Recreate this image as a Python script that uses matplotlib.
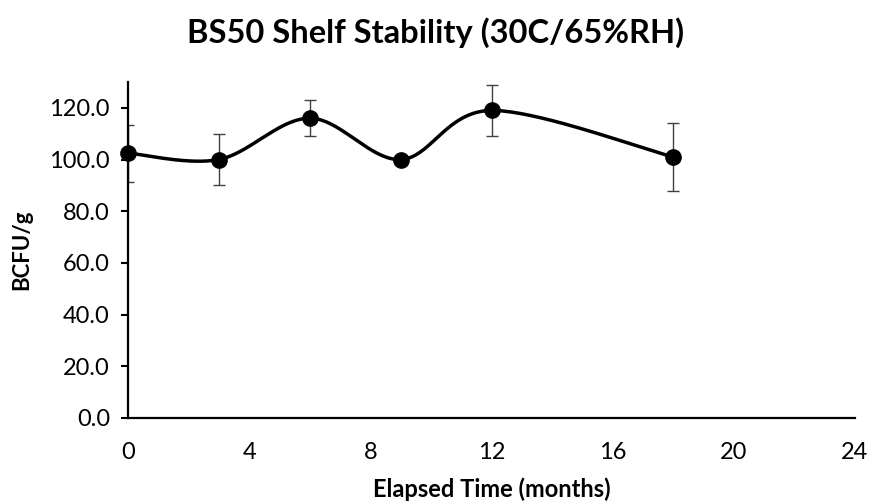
import matplotlib.pyplot as plt
import numpy as np

# data
months = [0, 3, 6, 9, 12, 18]
bcfu = [102.5, 100.0, 116.0, 100.0, 119.0, 101.0]
bcfu_err = [11.0, 10.0, 7.0, 0.0, 10.0, 13.0]

x_ticks = [0, 4, 8, 12, 16, 20, 24]
y_ticks = [0, 20, 40, 60, 80, 100, 120]

plt.rcParams['font.family'] = ['Lato', 'DejaVu Sans']


# excel style smoothed line (bezier with 1/6 tension)
def smooth_curve(x, y, n=40):
    x = np.asarray(x, float)
    y = np.asarray(y, float)
    px, py = [], []
    for i in range(len(x) - 1):
        i0 = max(i - 1, 0)
        i3 = min(i + 2, len(x) - 1)
        c1x = x[i] + (x[i + 1] - x[i0]) / 6
        c1y = y[i] + (y[i + 1] - y[i0]) / 6
        c2x = x[i + 1] - (x[i3] - x[i]) / 6
        c2y = y[i + 1] - (y[i3] - y[i]) / 6
        t = np.linspace(0, 1, n)
        px.extend((1 - t) ** 3 * x[i] + 3 * (1 - t) ** 2 * t * c1x + 3 * (1 - t) * t ** 2 * c2x + t ** 3 * x[i + 1])
        py.extend((1 - t) ** 3 * y[i] + 3 * (1 - t) ** 2 * t * c1y + 3 * (1 - t) * t ** 2 * c2y + t ** 3 * y[i + 1])
    return px, py


fig = plt.figure(figsize=(8.72, 5.01), dpi=100)
ax = fig.add_axes([0.1468, 0.1657, 0.8337, 0.6706])

sx, sy = smooth_curve(months, bcfu)
ax.plot(sx, sy, color='black', lw=2.5, zorder=3)
ax.errorbar(months, bcfu, yerr=bcfu_err, fmt='none', ecolor='#404040',
            elinewidth=1, capsize=4, capthick=1, zorder=2)
ax.plot(months, bcfu, 'o', color='black', markersize=11, zorder=4, clip_on=False)

ax.set_xlim(0, 24)
ax.set_ylim(0, 130)
ax.set_xticks(x_ticks)
ax.set_yticks(y_ticks)
ax.set_yticklabels([f'{v:.1f}' for v in y_ticks])
ax.tick_params(axis='x', length=0, pad=17, labelsize=17)
ax.tick_params(axis='y', length=5, width=1.5, pad=8, labelsize=17)

for s in ['top', 'right']:
    ax.spines[s].set_visible(False)
for s in ['left', 'bottom']:
    ax.spines[s].set_linewidth(1.6)
    ax.spines[s].set_zorder(5)

ax.set_xlabel('Elapsed Time (months)', fontsize=17, fontweight='bold', labelpad=11)
ax.set_ylabel('BCFU/g', fontsize=16, fontweight='bold', labelpad=12)
fig.suptitle('BS50 Shelf Stability (30C/65%RH)', fontsize=23.5, fontweight='bold', x=0.5, y=0.965)

fig.savefig('out.png', dpi=100)
